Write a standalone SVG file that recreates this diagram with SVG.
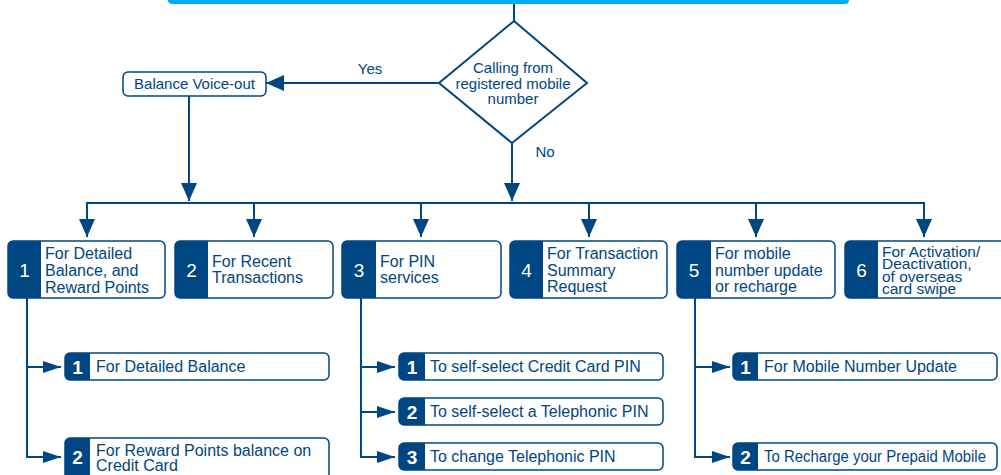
<svg xmlns="http://www.w3.org/2000/svg" width="1001" height="475" viewBox="0 0 1001 475">
<defs>
<style>
.ln{fill:none;stroke:#004682;stroke-width:2}
.bx{fill:#fff;stroke:#004682;stroke-width:1.5}
.dk{fill:#004682}
.t{font-family:"Liberation Sans",Arial,sans-serif;font-size:16px;fill:#004682}
.t6{font-family:"Liberation Sans",Arial,sans-serif;font-size:15.5px;fill:#004682}
.tm{font-family:"Liberation Sans",Arial,sans-serif;font-size:15px;fill:#004682}
.n{font-family:"Liberation Sans",Arial,sans-serif;font-size:19px;fill:#fff;text-anchor:middle}
.ns{font-family:"Liberation Sans",Arial,sans-serif;font-size:19px;font-weight:bold;fill:#fff;text-anchor:middle}
</style>
<marker id="ah" markerUnits="userSpaceOnUse" markerWidth="18" markerHeight="16" viewBox="0 0 18 16" refX="18" refY="8" orient="auto"><path d="M0,0 L18,8 L0,16 z" fill="#004682"/></marker>
<marker id="as" markerUnits="userSpaceOnUse" markerWidth="18" markerHeight="12" viewBox="0 0 18 12" refX="18" refY="6" orient="auto"><path d="M0,0 L18,6 L0,12 z" fill="#004682"/></marker>
</defs>
<rect x="168" y="-10" width="681" height="14" rx="4" fill="#00aeef"/>
<g id="connectors">
<path class="ln" d="M514,4 V21"/>
<path class="ln" d="M439,83 H266" marker-end="url(#ah)"/>
<path class="ln" d="M189,96 V201" marker-end="url(#ah)"/>
<path class="ln" d="M512,143 V201" marker-end="url(#ah)"/>
<path class="ln" d="M87,203 H924"/>
<path class="ln" d="M87,202 V237" marker-end="url(#ah)"/>
<path class="ln" d="M254,202 V237" marker-end="url(#ah)"/>
<path class="ln" d="M421,202 V237" marker-end="url(#ah)"/>
<path class="ln" d="M589,202 V237" marker-end="url(#ah)"/>
<path class="ln" d="M756,202 V237" marker-end="url(#ah)"/>
<path class="ln" d="M924,202 V237" marker-end="url(#ah)"/>
<path class="ln" d="M27,298 V457 H61" marker-end="url(#as)"/>
<path class="ln" d="M27,367 H61" marker-end="url(#as)"/>
<path class="ln" d="M361,298 V457 H395" marker-end="url(#as)"/>
<path class="ln" d="M361,367 H395" marker-end="url(#as)"/>
<path class="ln" d="M361,412 H395" marker-end="url(#as)"/>
<path class="ln" d="M695,298 V457 H730" marker-end="url(#as)"/>
<path class="ln" d="M695,367 H730" marker-end="url(#as)"/>
<text class="tm" x="370" y="74" text-anchor="middle">Yes</text>
<text class="tm" x="545" y="157" text-anchor="middle">No</text>
</g>
<g id="decision">
<path d="M514,21 L587,83 L512,143 L439,83 z" fill="#fff" stroke="#004682" stroke-width="2"/>
<text class="tm" text-anchor="middle"><tspan x="513" y="73">Calling from</tspan><tspan x="513" y="88.5">registered mobile</tspan><tspan x="513" y="104">number</tspan></text>
</g>
<g id="balance-voice">
<rect class="bx" x="123" y="72" width="143" height="24" rx="5"/>
<text class="tm" x="194.5" y="89" text-anchor="middle">Balance Voice-out</text>
</g>
<g id="opt1">
<rect class="bx" x="8" y="241" width="157" height="57" rx="5"/>
<path class="dk" d="M13,241 H41 V298 H13 Q8,298 8,293 V246 Q8,241 13,241 z"/>
<text class="n" x="24.5" y="277">1</text>
<text class="t"><tspan x="45" y="259">For Detailed</tspan><tspan x="45" y="276">Balance, and</tspan><tspan x="45" y="293">Reward Points</tspan></text>
</g>
<g id="opt2">
<rect class="bx" x="175" y="241" width="158" height="57" rx="5"/>
<path class="dk" d="M180,241 H208 V298 H180 Q175,298 175,293 V246 Q175,241 180,241 z"/>
<text class="n" x="191.5" y="277">2</text>
<text class="t"><tspan x="212" y="267">For Recent</tspan><tspan x="212" y="283">Transactions</tspan></text>
</g>
<g id="opt3">
<rect class="bx" x="342" y="241" width="159" height="57" rx="5"/>
<path class="dk" d="M347,241 H376 V298 H347 Q342,298 342,293 V246 Q342,241 347,241 z"/>
<text class="n" x="359" y="277">3</text>
<text class="t"><tspan x="380" y="267">For PIN</tspan><tspan x="380" y="283">services</tspan></text>
</g>
<g id="opt4">
<rect class="bx" x="510" y="241" width="157" height="57" rx="5"/>
<path class="dk" d="M515,241 H543 V298 H515 Q510,298 510,293 V246 Q510,241 515,241 z"/>
<text class="n" x="526.5" y="277">4</text>
<text class="t"><tspan x="547" y="259">For Transaction</tspan><tspan x="547" y="275.5">Summary</tspan><tspan x="547" y="292">Request</tspan></text>
</g>
<g id="opt5">
<rect class="bx" x="677" y="241" width="158" height="57" rx="5"/>
<path class="dk" d="M682,241 H711 V298 H682 Q677,298 677,293 V246 Q677,241 682,241 z"/>
<text class="n" x="694" y="277">5</text>
<text class="t"><tspan x="715" y="259">For mobile</tspan><tspan x="715" y="275.5">number update</tspan><tspan x="715" y="292">or recharge</tspan></text>
</g>
<g id="opt6">
<rect class="bx" x="845" y="241" width="160" height="57" rx="5"/>
<path class="dk" d="M850,241 H878 V298 H850 Q845,298 845,293 V246 Q845,241 850,241 z"/>
<text class="n" x="861.5" y="277">6</text>
<text class="t6"><tspan x="882" y="256.5">For Activation/</tspan><tspan x="882" y="269">Deactivation,</tspan><tspan x="882" y="281.5">of overseas</tspan><tspan x="882" y="293.5">card swipe</tspan></text>
</g>
<g id="sub1-1">
<rect class="bx" x="65" y="353" width="264" height="27" rx="5"/>
<path class="dk" d="M70,353 H90 V380 H70 Q65,380 65,375 V358 Q65,353 70,353 z"/>
<text class="ns" x="77.5" y="373.5">1</text>
<text class="t" x="96" y="372">For Detailed Balance</text>
</g>
<g id="sub1-2">
<rect class="bx" x="65" y="438" width="264" height="46" rx="5"/>
<path class="dk" d="M70,438 H90 V484 H65 V443 Q65,438 70,438 z"/>
<text class="ns" x="77.5" y="464">2</text>
<text class="t"><tspan x="96" y="456">For Reward Points balance on</tspan><tspan x="96" y="471">Credit Card</tspan></text>
</g>
<g id="sub3-1">
<rect class="bx" x="399" y="353" width="264" height="27" rx="5"/>
<path class="dk" d="M404,353 H425 V380 H404 Q399,380 399,375 V358 Q399,353 404,353 z"/>
<text class="ns" x="412" y="373.5">1</text>
<text class="t" x="430" y="372">To self-select Credit Card PIN</text>
</g>
<g id="sub3-2">
<rect class="bx" x="399" y="398" width="264" height="27" rx="5"/>
<path class="dk" d="M404,398 H425 V425 H404 Q399,425 399,420 V403 Q399,398 404,398 z"/>
<text class="ns" x="412" y="418.5">2</text>
<text class="t" x="430" y="417">To self-select a Telephonic PIN</text>
</g>
<g id="sub3-3">
<rect class="bx" x="399" y="443" width="264" height="27" rx="5"/>
<path class="dk" d="M404,443 H425 V470 H404 Q399,470 399,465 V448 Q399,443 404,443 z"/>
<text class="ns" x="412" y="463.5">3</text>
<text class="t" x="430" y="462">To change Telephonic PIN</text>
</g>
<g id="sub5-1">
<rect class="bx" x="733" y="353" width="264" height="27" rx="5"/>
<path class="dk" d="M738,353 H758 V380 H738 Q733,380 733,375 V358 Q733,353 738,353 z"/>
<text class="ns" x="745.5" y="373.5">1</text>
<text class="t" x="764" y="372">For Mobile Number Update</text>
</g>
<g id="sub5-2">
<rect class="bx" x="733" y="443" width="264" height="27" rx="5"/>
<path class="dk" d="M738,443 H758 V470 H738 Q733,470 733,465 V448 Q733,443 738,443 z"/>
<text class="ns" x="745.5" y="463.5">2</text>
<text class="t" x="764" y="462" textLength="222" lengthAdjust="spacingAndGlyphs">To Recharge your Prepaid Mobile</text>
</g>
</svg>
